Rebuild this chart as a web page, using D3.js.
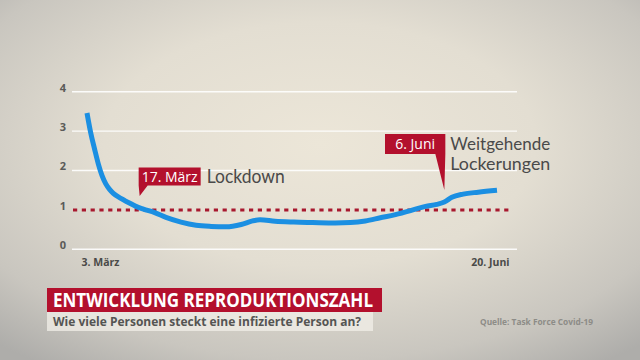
<!DOCTYPE html>
<html><head><meta charset="utf-8">
<script src="https://cdn.jsdelivr.net/npm/d3@7"></script>
<style>html,body{margin:0;padding:0;overflow:hidden;background:#d8d4ca}</style>
</head><body>
<script>
// ---- data ----
const startDate = "2020-03-03";
const endDate = "2020-06-20";
const dayOffsets = [0,1,2,3,4,5,6,7,9,11,13,15,18,21,25,29,33,37,41,44,46,50,55,60,66,70,74,78,82,86,90,93,95,97,100,104,109];
const rValues = [3.46,2.95,2.55,2.17,1.87,1.66,1.52,1.42,1.29,1.19,1.09,1.02,0.93,0.81,0.69,0.61,0.58,0.57,0.63,0.72,0.75,0.71,0.69,0.68,0.67,0.68,0.72,0.80,0.88,0.98,1.09,1.14,1.20,1.32,1.40,1.45,1.50];
const yTicks = [0,1,2,3,4];
const xTickLabels = ["3. März","20. Juni"];
const threshold = 1;
const events = [
  {date:"2020-03-17", label:"17. März", text:["Lockdown"]},
  {date:"2020-06-06", label:"6. Juni", text:["Weitgehende","Lockerungen"]}
];
const title = "ENTWICKLUNG REPRODUKTIONSZAHL";
const subtitle = "Wie viele Personen steckt eine infizierte Person an?";
const source = "Quelle: Task Force Covid-19";

// ---- setup ----
const W=640,H=360;
const svg=d3.select("body").append("svg").attr("width",W).attr("height",H);
const defs=svg.append("defs");
const grad=defs.append("radialGradient").attr("id","bg").attr("cx","50%").attr("cy","40%").attr("r","75%");
grad.append("stop").attr("offset","0%").attr("stop-color","#ece6d8");
grad.append("stop").attr("offset","45%").attr("stop-color","#e3ded2");
grad.append("stop").attr("offset","80%").attr("stop-color","#c9c6bf");
grad.append("stop").attr("offset","100%").attr("stop-color","#aeadaa");
svg.append("rect").attr("width",W).attr("height",H).attr("fill","url(#bg)");

const parse=d3.utcParse("%Y-%m-%d");
const t0=parse(startDate), t1=parse(endDate);
const data=dayOffsets.map((d,i)=>({date:d3.utcDay.offset(t0,d),v:rValues[i]}));

const x=d3.scaleUtc().domain([t0,t1]).range([87,497]);
const y=d3.scaleLinear().domain([0,4]).range([249.3,91.7]);

const FONT="'Open Sans','Noto Sans',sans-serif";
const LFONT="Lato,'Open Sans',sans-serif";

// gridlines
svg.append("g").selectAll("line").data(yTicks.filter(d=>d!==threshold)).join("line")
  .attr("x1",72).attr("x2",517).attr("y1",d=>y(d)).attr("y2",d=>y(d))
  .attr("stroke","#ffffff").attr("stroke-width",1.4).attr("opacity",0.9);

// y axis labels
const yAxis=svg.append("g").attr("transform","translate(67,0)")
  .call(d3.axisLeft(y).tickValues(yTicks).tickSize(0).tickFormat(d3.format("d")));
yAxis.select(".domain").remove();
yAxis.selectAll("text").attr("x",-4).attr("dy","-0.05em").attr("text-anchor","middle")
  .attr("font-family",FONT).attr("font-weight",700).attr("font-size",11).attr("fill","#5a5a58");

// x axis labels
const xAxis=svg.append("g").attr("transform","translate(0,256)")
  .call(d3.axisBottom(x).tickValues([t0,t1]).tickSize(0).tickFormat((d,i)=>xTickLabels[i]));
xAxis.select(".domain").remove();
xAxis.selectAll("text").attr("font-family",FONT).attr("font-weight",700).attr("font-size",10.5).attr("fill","#4a4a48")
  .attr("text-anchor",(d,i)=>i===0?"start":"end").attr("dx",(d,i)=>i===0?-6:12);

// threshold dotted line
svg.append("line").attr("x1",73).attr("x2",513).attr("y1",y(threshold)).attr("y2",y(threshold))
  .attr("stroke","#a8182e").attr("stroke-width",3).attr("stroke-dasharray","4.2,4.6");

// line
svg.append("path").datum(data)
  .attr("d",d3.line().x(d=>x(d.date)).y(d=>y(d.v)).curve(d3.curveMonotoneX))
  .attr("fill","none").attr("stroke","#1b8fe2").attr("stroke-width",5).attr("stroke-linecap","butt");

// event callouts
const RED="#b3102d";
// event 1 : 17. März
{
  const e=events[0]; const ex=x(parse(e.date));
  const bx=ex-1, by=167.5, bw=62, bh=18;
  svg.append("path").attr("fill",RED)
    .attr("d",`M${bx},${by}h${bw}v${bh}H${bx+9}L${ex},${196}L${bx},${by+bh}Z`);
  svg.append("text").attr("x",bx+bw/2).attr("y",by+14).attr("text-anchor","middle")
    .attr("font-family",FONT).attr("font-size",14).attr("fill","#fff").text(e.label);
  svg.append("text").attr("x",bx+bw+6).attr("y",by+15).attr("font-family",LFONT).attr("font-weight",400)
    .attr("font-size",18.5).attr("fill","#4a4a4a").attr("textLength",78).attr("lengthAdjust","spacingAndGlyphs").text(e.text[0]);
}
// event 2 : 6. Juni
{
  const e=events[1]; const ex=x(parse(e.date));
  const bx=385, by=134, bw=ex+1-385, bh=20;
  svg.append("path").attr("fill",RED)
    .attr("d",`M${bx},${by}h${bw}v${bh}L${ex},${190}L${bx+bw-10},${by+bh}H${bx}Z`);
  svg.append("text").attr("x",bx+bw/2).attr("y",by+15).attr("text-anchor","middle")
    .attr("font-family",FONT).attr("font-size",14).attr("fill","#fff").text(e.label);
  e.text.forEach((t,i)=>svg.append("text").attr("x",bx+bw+5).attr("y",by+16+i*20).attr("font-family",LFONT)
    .attr("font-weight",400).attr("font-size",16.5).attr("fill","#4a4a4a")
    .attr("textLength",100).attr("lengthAdjust","spacingAndGlyphs").text(t));
}

// title block
svg.append("rect").attr("x",47).attr("y",288).attr("width",335).attr("height",24).attr("fill",RED);
svg.append("rect").attr("x",47).attr("y",312).attr("width",326).attr("height",19).attr("fill","#f2efe8").attr("opacity",0.75);
svg.append("text").attr("x",53).attr("y",307).attr("font-family",FONT).attr("font-weight",700).attr("font-size",19)
  .attr("fill","#fff").attr("textLength",320).attr("lengthAdjust","spacingAndGlyphs").text(title);
svg.append("text").attr("x",53).attr("y",326).attr("font-family",FONT).attr("font-weight",700).attr("font-size",13)
  .attr("fill","#555553").attr("textLength",308).attr("lengthAdjust","spacingAndGlyphs").text(subtitle);
svg.append("text").attr("x",480).attr("y",325).attr("font-family",FONT).attr("font-weight",700).attr("font-size",9)
  .attr("fill","#8d8c87").attr("textLength",113).attr("lengthAdjust","spacingAndGlyphs").text(source);
</script>
</body></html>
